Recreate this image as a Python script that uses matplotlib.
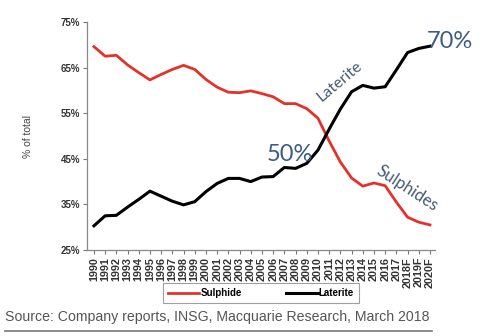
import numpy as np
import matplotlib
matplotlib.use("Agg")
import matplotlib.pyplot as plt

# data (% of total nickel supply)
years = [str(y) for y in range(1990, 2018)] + ["2018F", "2019F", "2020F"]
sulphide = [69.6, 67.5, 67.7, 65.6, 63.9, 62.3, 63.5, 64.6, 65.5, 64.6,
            62.4, 60.7, 59.6, 59.5, 59.9, 59.3, 58.6, 57.1, 57.1, 56.0,
            53.9, 48.9, 44.3, 40.8, 39.0, 39.7, 39.1, 35.5, 32.2, 31.1, 30.5]
laterite = [30.3, 32.5, 32.6, 34.4, 36.1, 37.9, 36.8, 35.7, 34.9, 35.6,
            37.8, 39.6, 40.7, 40.7, 40.0, 41.0, 41.1, 43.1, 42.9, 44.0,
            46.9, 51.5, 55.9, 59.7, 61.1, 60.5, 60.8, 64.5, 68.3, 69.2, 69.7]
yticks = [25, 35, 45, 55, 65, 75]

W, H = 484, 336
fig = plt.figure(figsize=(W / 100, H / 100), dpi=100)
ax = fig.add_axes([87 / W, 1 - 250 / H, (435 - 87) / W, (250 - 22) / H])

x = np.arange(len(years))
red = "#e4322b"
ax.plot(x, sulphide, color=red, lw=2.0, label="Sulphide", solid_joinstyle="round")
ax.plot(x, laterite, color="black", lw=2.2, label="Laterite", solid_joinstyle="round")

ax.set_xlim(-0.62, 30.45)
ax.set_ylim(25, 75)
ax.set_yticks(yticks)
ax.set_yticklabels([f"{v}%" for v in yticks], fontsize=7, fontweight="bold",
                   color="#333333", family="Liberation Sans")
ax.set_xticks(x)
ax.set_xticklabels(years, rotation=90, fontsize=7.8, fontweight="bold",
                   color="#333333", family="Liberation Sans")
ax.tick_params(axis="both", length=3, width=0.8, color="#777777", pad=2)
for s in ["top", "right"]:
    ax.spines[s].set_visible(False)
for s in ["left", "bottom"]:
    ax.spines[s].set_color("#888888")
    ax.spines[s].set_linewidth(0.9)

ax.set_ylabel("% of total", fontsize=7.5, color="#444444", family="Liberation Sans",
              labelpad=20)

# callouts
blue = "#3e5b86"
ax.text(29.7, 70.8, "70%", fontsize=17, color=blue, family="Lato",
        ha="left", va="center")
ax.text(15.4, 46.0, "50%", fontsize=17, color=blue, family="Lato",
        ha="left", va="center")
ax.text(21.9, 62.0, "Laterite", fontsize=11.5, color="#4a5a74", family="Lato",
        rotation=40, ha="center", va="center")
ax.text(28.0, 38.5, "Sulphides", fontsize=12, color="#4a5a74", family="Lato",
        rotation=-33, ha="center", va="center")

leg = fig.legend(loc="center", bbox_to_anchor=(261 / W, 1 - 293 / H), ncol=2,
                 frameon=True, fancybox=False, edgecolor="#888888",
                 handlelength=3.2, handletextpad=0.1, columnspacing=4.6,
                 borderpad=0.5, prop={"family": "Liberation Sans", "weight": "bold",
                                      "size": 7})
leg.get_frame().set_linewidth(0.8)

fig.text(5 / W, 1 - 317 / H, "Source: Company reports, INSG, Macquarie Research, March 2018",
         fontsize=10.2, color="#555555", family="Liberation Sans", ha="left", va="center")
fig.add_artist(plt.Line2D([5 / W, 432 / W], [1 - 331 / H, 1 - 331 / H],
                          color="#777777", lw=1.2))

fig.savefig("out.png", dpi=100)
